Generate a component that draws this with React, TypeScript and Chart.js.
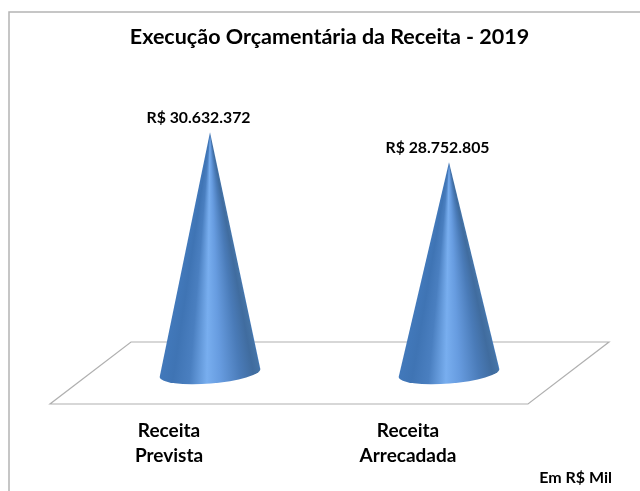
import React, { useEffect, useRef } from "react";
import { Chart, registerables } from "chart.js";

Chart.register(...registerables);

const categories = [["Receita", "Prevista"], ["Receita", "Arrecadada"]];
const values = [30632372, 28752805];
const valueLabels = ["R$ 30.632.372", "R$ 28.752.805"];
const titleText = "Execução Orçamentária da Receita - 2019";
const unitNote = "Em R$ Mil";
const fontFamily = "Lato, 'Open Sans', sans-serif";
const shadeStops: [number, string][] = [
  [0, "#4279bb"],
  [0.14, "#3f74b4"],
  [0.3, "#4a7fc0"],
  [0.47, "#78aeef"],
  [0.6, "#679ce0"],
  [0.8, "#4a7bb8"],
  [0.93, "#406c9f"],
  [1, "#4674a6"],
];

const conePlugin = {
  id: "cones",
  beforeDraw(chart: any) {
    const { ctx, width, height } = chart;
    ctx.save();
    ctx.fillStyle = "#ffffff";
    ctx.fillRect(0, 0, width, height);
    ctx.strokeStyle = "#b4b4b4";
    ctx.lineWidth = 1.5;
    ctx.beginPath();
    ctx.moveTo(9, height + 2);
    ctx.lineTo(9, 12);
    ctx.lineTo(width + 2, 12);
    ctx.stroke();
    ctx.restore();
  },
  beforeDatasetsDraw(chart: any) {
    const { ctx, chartArea } = chart;
    const { left, right, bottom } = chartArea;
    const dx = 40.5;
    const dy = 31;
    ctx.save();
    ctx.strokeStyle = "#b0b0b0";
    ctx.lineWidth = 1.2;
    ctx.beginPath();
    ctx.moveTo(left - dx, bottom + dy);
    ctx.lineTo(right - dx, bottom + dy);
    ctx.lineTo(right + dx, bottom - dy);
    ctx.lineTo(left + dx, bottom - dy);
    ctx.closePath();
    ctx.stroke();
    ctx.restore();
  },
  afterDatasetsDraw(chart: any) {
    const { ctx, chartArea } = chart;
    const bars = chart.getDatasetMeta(0).data;
    bars.forEach((bar: any, i: number) => {
      const cx = bar.x;
      const rx = bar.width / 2;
      const top = bar.y - 1;
      const cy = chartArea.bottom;
      const tilt = -Math.atan(8 / 101);
      const ry = 10.5;
      const h = cy - top;
      const aRight = Math.atan2(h, rx);
      const aLeft = Math.atan2(h, -rx);
      const sweep = (aLeft - aRight) / (2 * Math.PI);
      const g = ctx.createConicGradient(aRight, cx, top);
      [...shadeStops].reverse().forEach(([t, color]) => {
        g.addColorStop((1 - t) * sweep, color);
      });
      ctx.save();
      ctx.fillStyle = g;
      ctx.beginPath();
      ctx.moveTo(cx, top);
      ctx.lineTo(cx + rx * Math.cos(tilt), cy + rx * Math.sin(tilt));
      ctx.ellipse(cx, cy, rx, ry, tilt, 0, Math.PI);
      ctx.closePath();
      ctx.fill();
      ctx.fillStyle = "#000000";
      ctx.font = `bold 15.8px ${fontFamily}`;
      ctx.textAlign = "center";
      ctx.textBaseline = "middle";
      ctx.fillText(valueLabels[i], cx - 11.5, bar.y - 15);
      ctx.restore();
    });
    ctx.save();
    ctx.fillStyle = "#000000";
    ctx.font = `bold 16px ${fontFamily}`;
    ctx.textAlign = "right";
    ctx.textBaseline = "middle";
    ctx.fillText(unitNote, 612, 478);
    ctx.restore();
  },
};

export default function App() {
  const ref = useRef<HTMLCanvasElement>(null);
  useEffect(() => {
    const chart = new Chart(ref.current!, {
      type: "bar",
      plugins: [conePlugin],
      data: {
        labels: categories as any,
        datasets: [
          {
            data: values,
            backgroundColor: "rgba(0,0,0,0)",
            borderWidth: 0,
            barPercentage: 101 / 239,
            categoryPercentage: 1,
          },
        ],
      },
      options: {
        animation: false,
        responsive: false,
        layout: { padding: { left: 90.5, right: 71.5, top: 0, bottom: 0 } },
        plugins: {
          legend: { display: false },
          tooltip: { enabled: false },
          title: {
            display: true,
            text: titleText,
            color: "#000000",
            font: { family: fontFamily, size: 21.5, weight: "bold" },
            padding: { top: 24, bottom: 12 },
          },
        },
        scales: {
          x: {
            grid: { display: false },
            border: { display: false },
            afterFit(scale: any) {
              scale.height = 118;
            },
            ticks: {
              color: "#000000",
              font: { family: fontFamily, size: 19, weight: "bold", lineHeight: 1.32 },
              labelOffset: -41,
              padding: 37,
              maxRotation: 0,
              autoSkip: false,
            },
          },
          y: {
            display: false,
            min: 15530000,
            max: 35140000,
          },
        },
      },
    });
    return () => chart.destroy();
  }, []);
  return (
    <canvas
      ref={ref}
      width={640}
      height={491}
      style={{ position: "fixed", left: 0, top: 0, width: 640, height: 491, display: "block" }}
    />
  );
}
